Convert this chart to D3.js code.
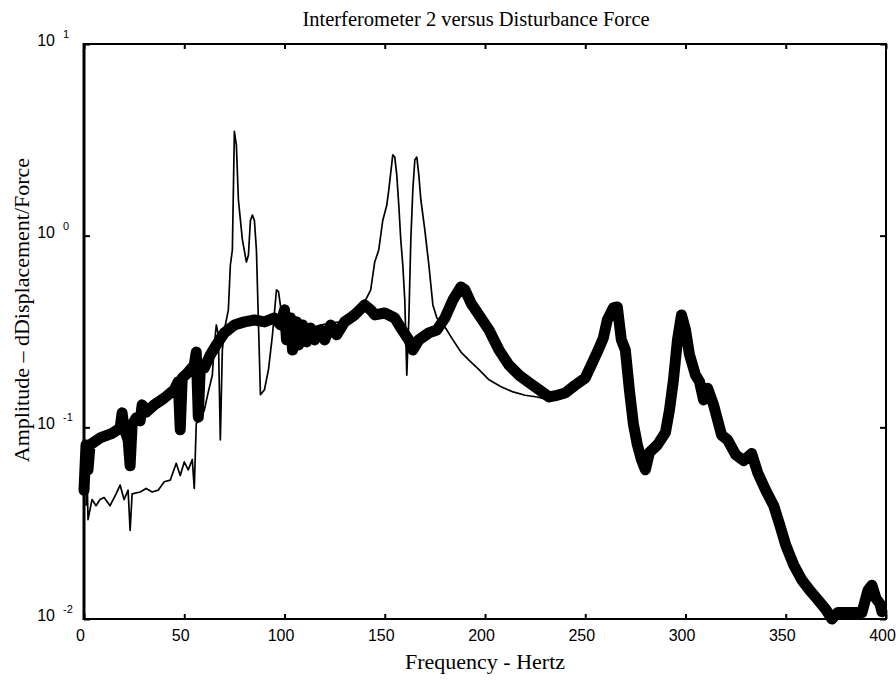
<!DOCTYPE html>
<html>
<head>
<meta charset="utf-8">
<script src="https://cdn.jsdelivr.net/npm/d3@7"></script>
<style>
  body { margin: 0; background: #fff; }
  svg { display: block; }
  .tick text { font-family: "Liberation Sans", Arial, sans-serif; font-size: 16px; fill: #000; }
  .ttl { font-family: "Liberation Serif", "Times New Roman", serif; font-size: 20.5px; fill: #000; }
  .axl { font-family: "Liberation Serif", "Times New Roman", serif; font-size: 22px; fill: #000; }
</style>
</head>
<body>
<div class="root"></div>
<script>
// thin trace
var thinFreq = [1, 1.5, 2, 4, 6, 8, 10, 13, 16, 18, 20, 22, 23, 24, 28, 31, 34, 37, 40, 43, 46, 48, 50, 52, 54, 55, 56, 58, 60, 62, 64, 65, 66, 67, 68, 69, 70, 72, 73, 74, 75, 76, 77, 79, 81, 82, 83, 84, 85, 86, 88, 90, 92, 94, 96, 97, 99, 103, 108, 113, 118, 123, 128, 133, 138, 141, 143, 145, 147, 149, 151, 152, 154, 155, 156, 157, 158, 159, 160, 161, 162, 163, 164, 165, 166, 167, 168, 170, 172, 174, 176, 180, 184, 188, 192, 197, 202, 208, 214, 220, 226, 232, 238];
var thinAmp = [0.039, 0.060, 0.033, 0.042, 0.039, 0.042, 0.043, 0.039, 0.045, 0.050, 0.042, 0.047, 0.029, 0.045, 0.046, 0.048, 0.046, 0.047, 0.052, 0.053, 0.065, 0.056, 0.066, 0.060, 0.068, 0.048, 0.105, 0.109, 0.123, 0.153, 0.187, 0.269, 0.342, 0.304, 0.086, 0.253, 0.322, 0.41, 0.703, 0.842, 3.5, 2.97, 1.54, 0.95, 0.729, 0.79, 1.2, 1.28, 1.2, 0.84, 0.148, 0.157, 0.2, 0.304, 0.521, 0.51, 0.363, 0.322, 0.330, 0.330, 0.342, 0.35, 0.355, 0.40, 0.435, 0.473, 0.522, 0.729, 0.842, 1.2, 1.44, 1.73, 2.64, 2.57, 2.07, 1.44, 0.95, 0.703, 0.461, 0.187, 0.363, 0.95, 1.73, 2.48, 2.57, 2.07, 1.54, 1.07, 0.703, 0.435, 0.372, 0.334, 0.286, 0.247, 0.224, 0.2, 0.177, 0.163, 0.153, 0.147, 0.144, 0.139, 0.142];

// thick trace
var thickFreq = [0, 1, 2, 3, 8, 14, 18, 19, 20, 22, 23, 24, 26, 28, 29, 31, 35, 40, 45, 47, 48, 49, 52, 55, 56, 57, 58, 60, 63, 66, 70, 75, 80, 85, 90, 95, 98, 100, 101, 103, 104, 106, 107, 109, 111, 113, 115, 118, 120, 123, 126, 130, 135, 140, 143, 145, 150, 155, 158, 162, 164, 167, 172, 176, 180, 184, 188, 190, 193, 198, 202, 207, 212, 217, 222, 227, 232, 236, 240, 245, 250, 253, 256, 259, 261, 264, 266, 268, 270, 272, 274, 276, 278, 280, 282, 286, 290, 292, 294, 296, 298, 300, 302, 305, 307, 309, 311, 314, 318, 321, 325, 329, 333, 336, 340, 344, 347, 350, 354, 358, 362, 366, 370, 373, 376, 388, 391, 393, 395, 397, 398];
var thickAmp = [0.047, 0.081, 0.060, 0.081, 0.088, 0.093, 0.099, 0.119, 0.099, 0.086, 0.063, 0.103, 0.112, 0.108, 0.131, 0.120, 0.131, 0.142, 0.157, 0.173, 0.097, 0.181, 0.194, 0.211, 0.247, 0.113, 0.204, 0.204, 0.239, 0.269, 0.311, 0.342, 0.355, 0.363, 0.355, 0.372, 0.342, 0.41, 0.286, 0.372, 0.253, 0.355, 0.269, 0.342, 0.279, 0.330, 0.286, 0.322, 0.286, 0.342, 0.304, 0.355, 0.386, 0.435, 0.41, 0.386, 0.395, 0.372, 0.330, 0.286, 0.253, 0.286, 0.311, 0.322, 0.372, 0.462, 0.540, 0.522, 0.445, 0.372, 0.322, 0.253, 0.211, 0.187, 0.171, 0.157, 0.144, 0.147, 0.151, 0.166, 0.181, 0.211, 0.247, 0.292, 0.363, 0.420, 0.425, 0.286, 0.253, 0.157, 0.104, 0.081, 0.068, 0.060, 0.074, 0.081, 0.094, 0.123, 0.177, 0.286, 0.386, 0.322, 0.239, 0.187, 0.173, 0.139, 0.160, 0.131, 0.091, 0.086, 0.072, 0.067, 0.073, 0.058, 0.047, 0.039, 0.031, 0.0243, 0.0191, 0.0160, 0.0141, 0.0126, 0.0112, 0.0100, 0.0108, 0.0108, 0.0141, 0.0150, 0.0128, 0.0120, 0.0109];

var xTicks = [0, 50, 100, 150, 200, 250, 300, 350, 400];
var yTicks = [0.01, 0.1, 1, 10];
var yExp = ['-2', '-1', '0', '1'];

var w = 896, h = 683;
var pL = 84, pR = 886, pT = 44, pB = 619;

var svg = d3.select('.root').append('svg')
  .attr('width', w)
  .attr('height', h);

var x = d3.scaleLinear().domain([0, 400]).range([pL, pR]);
var y = d3.scaleLog().domain([0.01, 10]).range([pB, pT]);

var line = d3.line()
  .x(function(d) { return x(d[0]); })
  .y(function(d) { return y(d[1]); });

var thin = d3.zip(thinFreq, thinAmp);
var thick = d3.zip(thickFreq, thickAmp);

svg.append('path')
  .attr('d', line(thick))
  .attr('fill', 'none')
  .attr('stroke', '#000')
  .attr('stroke-width', 11)
  .attr('stroke-linejoin', 'round')
  .attr('stroke-linecap', 'round');

svg.append('path')
  .attr('d', line(thin))
  .attr('fill', 'none')
  .attr('stroke', '#000')
  .attr('stroke-width', 1.7)
  .attr('stroke-linejoin', 'round');

// frame
svg.append('rect')
  .attr('x', pL).attr('y', pT)
  .attr('width', pR - pL).attr('height', pB - pT)
  .attr('fill', 'none').attr('stroke', '#000').attr('stroke-width', 2);
svg.append('line')
  .attr('x1', pL).attr('x2', pL).attr('y1', pT - 1).attr('y2', pB + 1)
  .attr('stroke', '#000').attr('stroke-width', 3);

// x axis
var xAxis = svg.append('g')
  .attr('transform', 'translate(0,' + pB + ')')
  .call(d3.axisBottom(x).tickValues(xTicks).tickSizeInner(-5).tickSizeOuter(0).tickPadding(11));
xAxis.select('.domain').remove();
xAxis.selectAll('.tick line').attr('stroke-width', 2);
xAxis.selectAll('.tick text').attr('dx', -4);

var xTop = svg.append('g')
  .attr('transform', 'translate(0,' + pT + ')')
  .call(d3.axisTop(x).tickValues(xTicks).tickSizeInner(-5).tickSizeOuter(0).tickFormat(''));
xTop.select('.domain').remove();
xTop.selectAll('.tick line').attr('stroke-width', 2);

// y ticks
var yl = svg.append('g')
  .attr('transform', 'translate(' + pL + ',0)')
  .call(d3.axisLeft(y).tickValues(yTicks).tickSizeInner(-6).tickSizeOuter(0).tickFormat(''));
yl.select('.domain').remove();
yl.selectAll('.tick line').attr('stroke-width', 2);

var yr = svg.append('g')
  .attr('transform', 'translate(' + pR + ',0)')
  .call(d3.axisRight(y).tickValues(yTicks).tickSizeInner(-6).tickSizeOuter(0).tickFormat(''));
yr.select('.domain').remove();
yr.selectAll('.tick line').attr('stroke-width', 2);

var ylab = svg.append('g').attr('class', 'tick');
yTicks.forEach(function(t, i) {
  ylab.append('text')
    .attr('x', 55)
    .attr('y', y(t) + 2)
    .attr('text-anchor', 'end')
    .text('10');
  ylab.append('text')
    .attr('x', 63)
    .attr('y', y(t) - 6)
    .style('font-size', '11px')
    .text(yExp[i]);
});

// titles
svg.append('text')
  .attr('class', 'ttl')
  .attr('x', 476).attr('y', 26)
  .attr('text-anchor', 'middle')
  .text('Interferometer 2 versus Disturbance Force');

svg.append('text')
  .attr('class', 'axl')
  .attr('x', 485).attr('y', 669)
  .attr('text-anchor', 'middle')
  .text('Frequency - Hertz');

svg.append('text')
  .attr('class', 'axl')
  .attr('transform', 'translate(29,310) rotate(-90)')
  .attr('text-anchor', 'middle')
  .text('Amplitude \u2013  dDisplacement/Force');
</script>
</body>
</html>
